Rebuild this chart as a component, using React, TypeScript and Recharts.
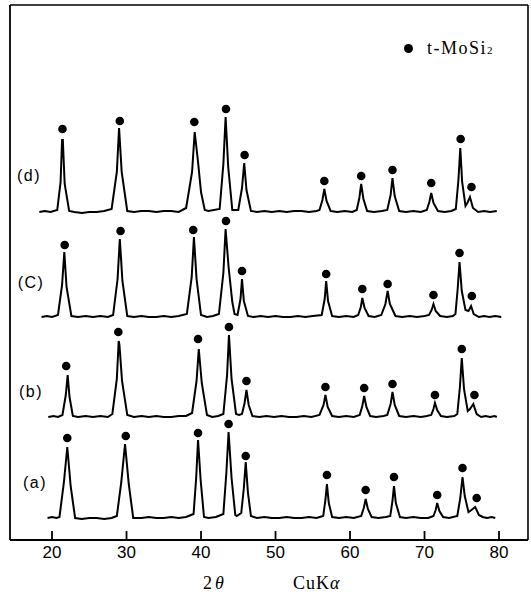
import React from 'react'
import { ComposedChart, Line, Scatter, XAxis, YAxis } from 'recharts'

// scans: [2θ (deg), counts above the sample's own baseline]
const scanA: [number, number][] = [
  [19.4, 0], [20.0, 1], [20.6, 0], [21.0, 1], [21.6, 36], [22.05, 71], [22.5, 32], [23.1, 0],
  [24.0, -1], [25.0, 0], [26.0, 0], [27.0, -1], [28.0, 0], [28.7, 2], [29.3, 36], [29.8, 74],
  [30.3, 34], [30.9, 0], [32.0, 0], [33.0, 1], [34.0, 0], [35.0, 0], [36.0, 1], [37.0, 0],
  [38.0, 1], [39.0, 4], [39.35, 40], [39.6, 78], [39.95, 38], [40.4, 1], [41.0, 0], [42.0, 1],
  [43.0, 4], [43.4, 45], [43.7, 86], [44.1, 40], [44.6, 3], [44.8, 2], [45.4, 5], [45.75, 30],
  [46.0, 56], [46.3, 25], [46.7, 2], [47.5, 0], [48.5, 1], [49.5, 0], [50.5, 0], [51.5, 1],
  [52.5, 0], [53.5, 0], [54.5, 1], [55.5, 0], [56.4, 2], [56.7, 18], [56.9, 34], [57.15, 15],
  [57.6, 1], [58.5, 0], [59.5, 1], [60.5, 0], [61.5, 2], [61.85, 10], [62.1, 19], [62.4, 9],
  [62.9, 1], [63.8, 0], [64.8, 1], [65.4, 2], [65.7, 17], [65.9, 32], [66.15, 15], [66.7, 1],
  [67.5, 0], [68.5, 1], [69.5, 0], [70.5, 0], [71.2, 2], [71.5, 8], [71.7, 15], [72.0, 7],
  [72.5, 1], [73.3, 0], [74.4, 2], [74.8, 20], [75.1, 41], [75.4, 22], [75.9, 6], [76.3, 8],
  [76.8, 11], [77.3, 3], [77.8, 1], [78.4, 0], [79.0, 1], [79.5, 0],
]

const scanB: [number, number][] = [
  [19.5, 0], [20.2, 1], [20.8, 0], [21.4, 2], [21.85, 22], [22.1, 42], [22.35, 20], [22.8, 1],
  [23.5, 0], [24.5, 1], [25.5, 0], [26.5, 1], [27.5, 0], [28.1, 3], [28.7, 38], [28.95, 76],
  [29.05, 72], [29.4, 36], [30.1, 2], [31.0, 0], [32.0, 1], [33.0, 0], [34.0, 1], [35.0, 0],
  [36.0, 0], [37.0, 1], [38.0, 1], [38.8, 4], [39.4, 36], [39.7, 68], [40.1, 34], [40.8, 2],
  [41.5, 0], [42.3, 1], [43.0, 3], [43.5, 42], [43.75, 82], [44.1, 38], [44.7, 3], [45.1, 2],
  [45.5, 3], [45.85, 14], [46.1, 27], [46.4, 12], [46.9, 1], [47.8, 0], [48.8, 1], [49.8, 0],
  [50.8, 1], [51.8, 0], [52.8, 0], [53.8, 1], [54.8, 0], [55.9, 2], [56.45, 12], [56.7, 22],
  [57.0, 10], [57.6, 1], [58.5, 0], [59.5, 1], [60.5, 0], [61.3, 2], [61.65, 11], [61.9, 21],
  [62.2, 10], [62.7, 1], [63.5, 0], [64.5, 1], [65.0, 2], [65.45, 13], [65.7, 25], [66.0, 12],
  [66.6, 1], [67.5, 0], [68.5, 1], [69.5, 0], [70.3, 1], [70.9, 2], [71.2, 8], [71.4, 14],
  [71.7, 7], [72.2, 1], [73.0, 0], [74.0, 1], [74.4, 3], [74.75, 30], [75.0, 59], [75.3, 28],
  [75.8, 6], [76.1, 8], [76.55, 13], [77.0, 3], [77.6, 0], [78.2, 1], [78.8, 0], [79.4, 1], [79.7, 0],
]

const scanC: [number, number][] = [
  [18.6, 0], [19.3, 1], [20.0, 0], [20.8, 2], [21.35, 32], [21.65, 65], [21.95, 30], [22.6, 1],
  [23.5, 0], [24.5, 1], [25.5, 0], [26.5, 1], [27.5, 0], [28.2, 2], [28.8, 38], [29.1, 78],
  [29.45, 36], [30.1, 1], [31.0, 0], [32.0, 1], [33.0, 0], [34.0, 0], [35.0, 1], [36.0, 0],
  [37.0, 1], [38.1, 3], [38.75, 40], [39.05, 80], [39.4, 38], [40.0, 2], [40.8, 0], [41.6, 1],
  [42.4, 3], [43.0, 44], [43.3, 88], [43.7, 50], [44.2, 15], [44.5, 3], [44.9, 2], [45.3, 18],
  [45.5, 38], [45.75, 16], [46.3, 1], [47.0, 0], [48.0, 1], [49.0, 0], [50.0, 1], [51.0, 0],
  [52.0, 0], [53.0, 1], [54.0, 0], [55.0, 1], [56.2, 2], [56.6, 18], [56.8, 36], [57.05, 16],
  [57.6, 1], [58.5, 0], [59.5, 1], [60.5, 0], [61.1, 2], [61.45, 10], [61.65, 19], [61.95, 9],
  [62.5, 1], [63.3, 0], [64.2, 2], [64.75, 13], [65.05, 26], [65.35, 13], [66.1, 1], [67.0, 0],
  [68.0, 1], [69.0, 0], [70.0, 1], [70.6, 2], [70.95, 7], [71.2, 13], [71.5, 6], [72.1, 1],
  [73.0, 0], [73.8, 1], [74.15, 3], [74.45, 28], [74.7, 55], [75.0, 26], [75.5, 7], [75.9, 6],
  [76.25, 11], [76.6, 3], [77.3, 0], [78.0, 1], [78.7, 0], [79.5, 1], [80.3, 0],
]

const scanD: [number, number][] = [
  [18.3, 0], [19.0, 1], [19.8, 0], [20.7, 2], [21.15, 30], [21.35, 72], [21.45, 72], [21.7, 28],
  [22.3, 1], [23.0, 0], [24.0, -1], [25.0, 0], [26.0, 0], [27.0, 1], [28.0, 3], [28.7, 40],
  [29.0, 84], [29.35, 40], [30.1, 1], [31.0, 0], [32.0, 1], [33.0, 1], [34.0, 0], [35.0, 1],
  [36.0, 1], [37.0, 0], [38.0, 4], [38.8, 40], [39.15, 80], [39.6, 50], [40.0, 20], [40.5, 2],
  [41.0, 1], [42.5, 3], [43.0, 48], [43.3, 95], [43.65, 45], [44.2, 2], [45.0, 2], [45.5, 24],
  [45.8, 49], [46.1, 22], [46.7, 1], [47.5, 0], [48.5, 1], [49.5, 0], [50.5, 1], [51.5, 0],
  [52.5, 1], [53.5, 1], [54.5, 0], [55.5, 1], [55.9, 2], [56.3, 12], [56.55, 23], [56.85, 11],
  [57.4, 1], [58.3, 0], [59.3, 1], [60.3, 0], [60.9, 2], [61.25, 14], [61.5, 28], [61.8, 13],
  [62.3, 1], [63.2, 0], [64.3, 1], [65.0, 2], [65.45, 17], [65.7, 34], [66.0, 16], [66.6, 1],
  [67.5, 0], [68.5, 1], [69.5, 0], [70.3, 2], [70.65, 10], [70.9, 19], [71.2, 9], [71.8, 1],
  [72.7, 0], [73.6, 1], [74.2, 3], [74.55, 32], [74.8, 64], [75.05, 30], [75.5, 6], [75.75, 9],
  [76.1, 15], [76.5, 4], [77.2, 0], [78.0, 1], [78.8, 0], [79.7, 1],
]

// t-MoSi2 markers: [2θ, height above baseline]
const marksA: [number, number][] = [
  [22.05, 80], [29.9, 82], [39.6, 85], [43.7, 94], [46.0, 62], [56.9, 43],
  [62.1, 28], [65.9, 41], [71.7, 23], [75.1, 50], [77.0, 20],
]
const marksB: [number, number][] = [
  [21.9, 51], [28.9, 85], [39.6, 78], [43.75, 90], [46.1, 36], [56.7, 30],
  [61.9, 29], [65.7, 33], [71.4, 22], [75.0, 68], [76.7, 22],
]
const marksC: [number, number][] = [
  [21.7, 72], [29.2, 86], [38.95, 87], [43.35, 96], [45.5, 46], [56.8, 43],
  [61.65, 28], [65.05, 33], [71.2, 22], [74.7, 64], [76.35, 21],
]
const marksD: [number, number][] = [
  [21.4, 83], [29.1, 91], [39.1, 90], [43.35, 103], [45.85, 57], [56.55, 31],
  [61.5, 36], [65.7, 42], [70.9, 29], [74.85, 73], [76.3, 25],
]

// vertical stacking of the four scans
const offsets = { a: 22, b: 123, c: 223, d: 328 }

const xTicks = [20, 30, 40, 50, 60, 70, 80]
const X_DOMAIN: [number, number] = [14.36, 83.89]
const Y_DOMAIN: [number, number] = [0, 535]

const toRows = (pts: [number, number][], off: number) =>
  pts.map(([x, v]) => ({ x, y: v + off }))

const series = [
  { key: 'a', scan: scanA, marks: marksA, off: offsets.a },
  { key: 'b', scan: scanB, marks: marksB, off: offsets.b },
  { key: 'c', scan: scanC, marks: marksC, off: offsets.c },
  { key: 'd', scan: scanD, marks: marksD, off: offsets.d },
]

const sampleLabels = [
  { text: '(d)', x: 29, y: 176 },
  { text: '(C)', x: 31, y: 283 },
  { text: '(b)', x: 31, y: 392 },
  { text: '(a)', x: 35, y: 483 },
]

const Dot = (props: any) => <circle cx={props.cx} cy={props.cy} r={4.3} fill="#000" />

export default function App() {
  const sans = '"Liberation Sans", Arial, sans-serif'
  const serif = '"Liberation Serif", "Times New Roman", serif'
  return (
    <div style={{ position: 'absolute', left: 0, top: 0, width: 531, height: 594, background: '#fff' }}>
      <ComposedChart width={531} height={594} margin={{ top: 0, right: 0, left: 0, bottom: 0 }}>
        <XAxis
          dataKey="x"
          type="number"
          domain={X_DOMAIN}
          allowDataOverflow
          ticks={xTicks}
          height={54}
          tickSize={-9}
          tickMargin={15}
          axisLine={{ stroke: '#000', strokeWidth: 1.8 }}
          tickLine={{ stroke: '#000', strokeWidth: 1.8 }}
          tick={{ fill: '#000', fontSize: 17, fontFamily: sans }}
        />
        <XAxis xAxisId="top" orientation="top" type="number" domain={X_DOMAIN} allowDataOverflow
          height={5} tick={false} tickLine={false} axisLine={{ stroke: '#000', strokeWidth: 1.6 }} />
        <YAxis dataKey="y" type="number" domain={Y_DOMAIN} allowDataOverflow width={10}
          tick={false} tickLine={false} axisLine={{ stroke: '#000', strokeWidth: 1.8 }} />
        <YAxis yAxisId="right" orientation="right" type="number" domain={Y_DOMAIN} allowDataOverflow
          width={3} tick={false} tickLine={false} axisLine={{ stroke: '#000', strokeWidth: 1.6 }} />
        {series.map(s => (
          <Line
            key={`line-${s.key}`}
            data={toRows(s.scan, s.off)}
            dataKey="y"
            type="linear"
            stroke="#000"
            strokeWidth={2}
            dot={false}
            isAnimationActive={false}
          />
        ))}
        {series.map(s => (
          <Scatter
            key={`mark-${s.key}`}
            data={toRows(s.marks, s.off)}
            dataKey="y"
            fill="#000"
            shape={Dot}
            isAnimationActive={false}
          />
        ))}
      </ComposedChart>

      {sampleLabels.map(l => (
        <div key={l.text} style={{
          position: 'absolute', left: l.x, top: l.y, transform: 'translate(-50%, -50%)',
          fontFamily: sans, fontSize: 16, letterSpacing: 1.5, lineHeight: 1, color: '#000',
        }}>{l.text}</div>
      ))}

      <div style={{ position: 'absolute', left: 404, top: 44, width: 9, height: 9, borderRadius: '50%', background: '#000' }} />
      <div style={{
        position: 'absolute', left: 427, top: 48, transform: 'translateY(-50%)',
        fontFamily: serif, fontSize: 18, letterSpacing: 1.5, lineHeight: 1, color: '#000', whiteSpace: 'nowrap',
      }}>t-MoSi<span style={{ fontSize: 11 }}>2</span></div>

      <div style={{
        position: 'absolute', left: 203, top: 583, transform: 'translateY(-50%)',
        fontFamily: serif, fontSize: 18, lineHeight: 1, color: '#000', whiteSpace: 'nowrap',
      }}>2<i style={{ marginLeft: 3 }}>θ</i></div>
      <div style={{
        position: 'absolute', left: 293, top: 583, transform: 'translateY(-50%)',
        fontFamily: serif, fontSize: 18, letterSpacing: 1, lineHeight: 1, color: '#000', whiteSpace: 'nowrap',
      }}>CuK<i>α</i></div>
    </div>
  )
}
